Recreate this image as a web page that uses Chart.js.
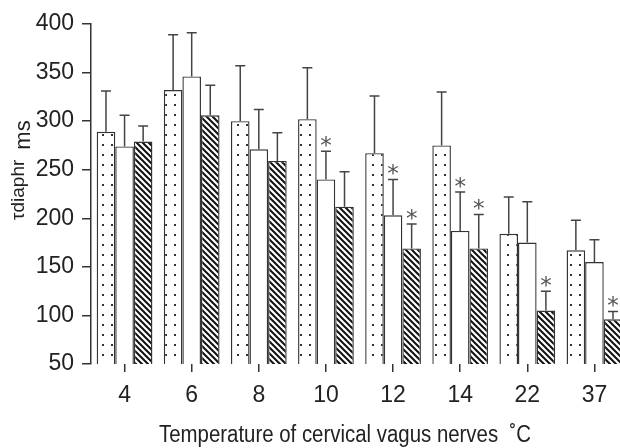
<!DOCTYPE html>
<html>
<head>
<meta charset="utf-8">
<script src="https://cdn.jsdelivr.net/npm/chart.js@4"></script>
<style>
  html, body { margin: 0; padding: 0; background: #fff; overflow: hidden; }
  #wrap { position: relative; width: 628px; height: 448px; }
</style>
</head>
<body>
<div id="wrap"><canvas id="chart" width="628" height="448"></canvas></div>
<script>
// Temperaturen (categorieën) en gemiddelden per reeks, met bovenkant van de foutbalk.
const temps     = ['4', '6', '8', '10', '12', '14', '22', '37'];
const serieA    = [289, 332, 300, 302, 267, 275, 184, 167];
const serieAErr = [331, 389, 357, 355, 326, 330, 222, 198];
const serieB    = [274, 346, 271, 240, 203, 187, 175, 155];
const serieBErr = [306, 391, 312, 269, 240, 227, 217, 178];
const serieC    = [279, 306, 259, 212, 169, 169, 105, 96];
const serieCErr = [295, 337, 288, 248, 194, 204, 125, 104];
// Significantie-sterretjes (1 = * boven de foutbalk).
const sterA = [0, 0, 0, 0, 0, 0, 0, 0];
const sterB = [0, 0, 0, 1, 1, 1, 0, 0];
const sterC = [0, 0, 0, 0, 1, 1, 1, 1];
const yTicks = [50, 100, 150, 200, 250, 300, 350, 400];

const FONT = '"Liberation Sans", Arial, sans-serif';
const INK = '#333';

function dotPattern() {
  const c = document.createElement('canvas'); c.width = 9; c.height = 10;
  const g = c.getContext('2d');
  g.fillStyle = '#fff'; g.fillRect(0, 0, 9, 10);
  g.fillStyle = '#333'; g.fillRect(3, 4, 2, 2);
  return g.createPattern(c, 'repeat');
}

function hatchPattern() {
  const s = 6;
  const c = document.createElement('canvas'); c.width = s; c.height = s;
  const g = c.getContext('2d');
  g.fillStyle = '#fff'; g.fillRect(0, 0, s, s);
  g.strokeStyle = '#111'; g.lineWidth = 2;
  g.beginPath();
  g.moveTo(-1, -1); g.lineTo(s + 1, s + 1);
  g.moveTo(-1, s - 1); g.lineTo(1, s + 1);
  g.moveTo(s - 1, -1); g.lineTo(s + 1, 1);
  g.stroke();
  return g.createPattern(c, 'repeat');
}

const extraPlugin = {
  id: 'extra',
  afterDatasetsDraw(chart) {
    const ctx = chart.ctx, y = chart.scales.y;
    const errs = [serieAErr, serieBErr, serieCErr];
    const sters = [sterA, sterB, sterC];
    ctx.save();
    errs.forEach((err, d) => {
      const meta = chart.getDatasetMeta(d);
      meta.data.forEach((bar, i) => {
        const yTop = y.getPixelForValue(err[i]);
        ctx.strokeStyle = '#444'; ctx.lineWidth = 1.5;
        ctx.beginPath();
        ctx.moveTo(bar.x, bar.y); ctx.lineTo(bar.x, yTop);
        ctx.moveTo(bar.x - 5, yTop); ctx.lineTo(bar.x + 5, yTop);
        ctx.stroke();
        if (sters[d][i]) {
          ctx.font = '23px "DejaVu Sans", sans-serif';
          ctx.fillStyle = '#555';
          ctx.textAlign = 'center'; ctx.textBaseline = 'alphabetic';
          const m = ctx.measureText('*');
          const yc = yTop - 10;
          ctx.fillText('*', bar.x, yc - (m.actualBoundingBoxDescent - m.actualBoundingBoxAscent) / 2);
        }
      });
    });
    ctx.restore();
  },
  afterDraw(chart) {
    const ctx = chart.ctx;
    ctx.save();
    // x-as titel, iets smaller gezet zoals in het origineel.
    const xt = 'Temperature of cervical vagus nerves  \u02DAC';
    ctx.font = '23px ' + FONT;
    ctx.fillStyle = '#222';
    ctx.textAlign = 'left'; ctx.textBaseline = 'alphabetic';
    const w = ctx.measureText(xt).width;
    const doel = 372;
    ctx.translate(345 - doel / 2, 442);
    ctx.scale(doel / w, 1);
    ctx.fillText(xt, 0, 0);
    ctx.restore();

    // y-as titel: τdiaphr ms, gedraaid.
    ctx.save();
    ctx.translate(0, 220);
    ctx.rotate(-Math.PI / 2);
    ctx.fillStyle = '#222';
    ctx.textAlign = 'left'; ctx.textBaseline = 'alphabetic';
    ctx.font = '19px ' + FONT;
    const tw = ctx.measureText('\u03C4diaphr').width;
    ctx.fillText('\u03C4diaphr', 0, 24);
    ctx.font = '22px ' + FONT;
    ctx.fillText('ms', tw + 10, 30);
    ctx.restore();
  }
};

new Chart(document.getElementById('chart'), {
  type: 'bar',
  plugins: [extraPlugin],
  data: {
    labels: temps,
    datasets: [
      { data: serieA, backgroundColor: dotPattern(), borderColor: INK, borderWidth: 1.4, borderSkipped: false },
      { data: serieB, backgroundColor: '#fff', borderColor: INK, borderWidth: 1.4, borderSkipped: false },
      { data: serieC, backgroundColor: hatchPattern(), borderColor: INK, borderWidth: 1.4, borderSkipped: false }
    ]
  },
  options: {
    responsive: false, animation: false, devicePixelRatio: 1,
    layout: { padding: { top: 24, right: 0, left: 0, bottom: 0 } },
    datasets: { bar: { categoryPercentage: 0.83, barPercentage: 1.0 } },
    plugins: { legend: { display: false }, tooltip: { enabled: false } },
    scales: {
      x: {
        offset: true,
        grid: { offset: false, drawOnChartArea: false, drawTicks: true, tickLength: 8, color: INK, lineWidth: 1.5 },
        border: { display: false },
        ticks: { color: '#222', font: { size: 23, family: FONT }, padding: 10, maxRotation: 0, autoSkip: false },
        afterFit(s) { s.height = 84; }
      },
      y: {
        min: 50, max: 400,
        afterBuildTicks(s) { s.ticks = yTicks.map(v => ({ value: v })); },
        grid: { drawOnChartArea: false, drawTicks: true, tickLength: 9, color: INK, lineWidth: 1.5 },
        border: { display: true, color: INK, width: 1.5 },
        ticks: { color: '#222', font: { size: 23, family: FONT }, padding: 8 },
        afterFit(s) { s.width = 91; }
      }
    }
  }
});
</script>
</body>
</html>
